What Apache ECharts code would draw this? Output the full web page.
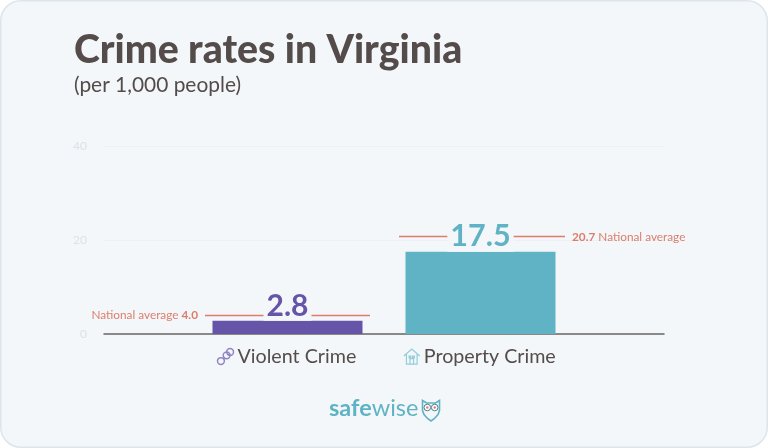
<!DOCTYPE html>
<html>
<head>
<meta charset="utf-8">
<style>
html, body { margin: 0; padding: 0; background: #fff; }
#chart { width: 768px; height: 448px; }
</style>
<script src="https://cdn.jsdelivr.net/npm/echarts@6/dist/echarts.min.js"></script>
</head>
<body>
<div id="chart"></div>
<script>
var categories = ['Virginia'];
var seriesNames = ['Violent Crime', 'Property Crime'];
var violentCrime = [2.8];
var propertyCrime = [17.5];
var nationalAverage = [4.0, 20.7];

var FONT = 'Lato';
var ink = '#544c4a';
var red = '#dc7d6e';
var paper = '#f4f7f9';
var purple = '#6554a8';
var teal = '#5fb3c5';

var chainIcon = 'path://M3 12a3 3 0 1 0 6 0a3 3 0 1 0 -6 0M8 7a3 3 0 1 0 6 0a3 3 0 1 0 -6 0M11 4a3 3 0 1 0 6 0a3 3 0 1 0 -6 0';
var houseIcon = 'path://M1 9L10 1L19 9M4 7V18H16V7M8 18V12H12V18M7 9H9V11H7ZM11 9H13V11H11Z';

var avgRich = {
    a: { fontFamily: FONT, fontSize: 11.8, color: red },
    b: { fontFamily: FONT, fontSize: 11.8, fontWeight: 'bold', color: red }
};

var myChart = echarts.init(document.getElementById('chart'));

var option = {
    animation: false,
    title: {
        text: 'Crime rates in Virginia',
        subtext: '(per 1,000 people)',
        left: 74,
        top: 31,
        itemGap: 5,
        padding: 0,
        textStyle: { fontFamily: FONT, fontSize: 39.2, fontWeight: 900, color: ink },
        subtextStyle: { fontFamily: FONT, fontSize: 20.9, color: ink }
    },
    grid: { left: 104, right: 104, top: 146, bottom: 114 },
    legend: {
        data: [
            { name: seriesNames[0], icon: chainIcon, itemStyle: { color: 'none', borderColor: '#8f84c6', borderWidth: 1.5 } },
            { name: seriesNames[1], icon: houseIcon, itemStyle: { color: 'none', borderColor: '#92cdd9', borderWidth: 1.2 } }
        ],
        left: 215,
        top: 346,
        itemWidth: 16,
        itemHeight: 16,
        itemGap: 45,
        selectedMode: false,
        padding: 0,
        textStyle: { fontFamily: FONT, fontSize: 19.7, color: ink, padding: [0, 0, 0, -1] }
    },
    xAxis: {
        type: 'category',
        data: categories,
        axisTick: { show: false },
        axisLabel: { show: false },
        axisLine: { lineStyle: { color: '#6b6664', width: 1.5 } }
    },
    yAxis: {
        type: 'value',
        min: 0,
        max: 40,
        interval: 20,
        axisLabel: { fontFamily: FONT, fontSize: 12, color: '#d9e2e9', margin: 17 },
        axisLine: { show: false },
        axisTick: { show: false },
        splitLine: { lineStyle: { color: '#edf1f4', width: 1 } }
    },
    series: [
        {
            name: seriesNames[0],
            type: 'bar',
            z: 3,
            data: violentCrime,
            barWidth: 150,
            barGap: '28.67%',
            itemStyle: { color: purple },
            label: {
                show: true,
                position: 'top',
                distance: 0,
                fontFamily: FONT,
                fontSize: 30,
                fontWeight: 'bold',
                color: purple,
                backgroundColor: paper,
                padding: [0, 3, 0, 3]
            }
        },
        {
            name: seriesNames[1],
            type: 'bar',
            z: 3,
            data: propertyCrime,
            barWidth: 150,
            itemStyle: { color: teal },
            label: {
                show: true,
                position: 'top',
                distance: 0,
                fontFamily: FONT,
                fontSize: 30.5,
                fontWeight: 'bold',
                color: teal,
                backgroundColor: paper,
                padding: [0, 3, 0, 3]
            },
            markLine: {
                silent: true,
                z: 2,
                symbol: 'none',
                lineStyle: { color: red, width: 1.3, type: 'solid' },
                data: [
                    [
                        {
                            x: 205,
                            yAxis: nationalAverage[0],
                            label: {
                                position: 'start',
                                distance: 7,
                                formatter: '{a|National average }{b|' + nationalAverage[0].toFixed(1) + '}',
                                rich: avgRich
                            }
                        },
                        { x: 370, yAxis: nationalAverage[0] }
                    ],
                    [
                        {
                            x: 399,
                            yAxis: nationalAverage[1],
                            label: {
                                position: 'end',
                                distance: 7,
                                formatter: '{b|' + nationalAverage[1].toFixed(1) + '}{a| National average}',
                                rich: avgRich
                            }
                        },
                        { x: 565, yAxis: nationalAverage[1] }
                    ]
                ]
            }
        }
    ],
    graphic: [
        {
            type: 'rect',
            z: -10,
            silent: true,
            shape: { x: 0.75, y: 0.75, width: 766.5, height: 446.5, r: 20 },
            style: { fill: paper, stroke: '#dde5ec', lineWidth: 1.5 }
        },
        {
            type: 'text',
            left: 329,
            top: 396,
            silent: true,
            style: {
                text: '{a|safe}{b|wise}',
                rich: {
                    a: { fontFamily: FONT, fontSize: 23.5, fontWeight: 'bold', fill: teal },
                    b: { fontFamily: FONT, fontSize: 23.5, fill: teal }
                }
            }
        },
        {
            type: 'group',
            left: 420,
            top: 398,
            silent: true,
            children: [
                {
                    type: 'polygon',
                    shape: { points: [[1, 1], [5, 3.5], [14, 3.5], [18, 1], [18, 11], [16.5, 15], [13, 19], [9.5, 21.5], [6, 19], [2.5, 15], [1, 11]] },
                    style: { fill: 'none', stroke: teal, lineWidth: 1.6 }
                },
                { type: 'circle', shape: { cx: 5.8, cy: 8, r: 3.3 }, style: { fill: '#fff', stroke: '#4a7f8c', lineWidth: 1 } },
                { type: 'circle', shape: { cx: 13.2, cy: 8, r: 3.3 }, style: { fill: '#fff', stroke: '#4a7f8c', lineWidth: 1 } },
                { type: 'circle', shape: { cx: 5.8, cy: 8, r: 1.2 }, style: { fill: red } },
                { type: 'circle', shape: { cx: 13.2, cy: 8, r: 1.2 }, style: { fill: red } }
            ]
        }
    ]
};

option && myChart.setOption(option);
</script>
</body>
</html>
